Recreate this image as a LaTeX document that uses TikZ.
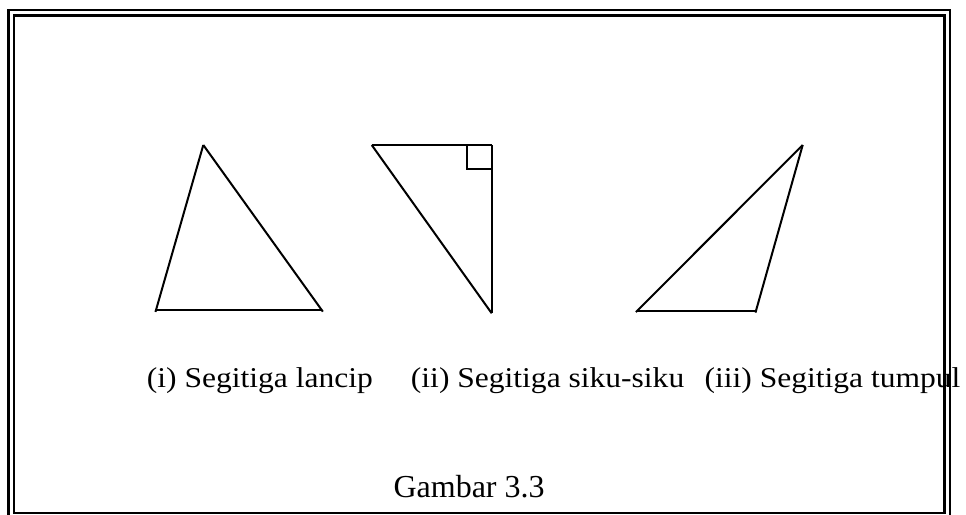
\documentclass[tikz,border=0pt]{standalone}
\usepackage{fontspec}
\setmainfont{Liberation Serif}
\usepackage{tikz}
\usetikzlibrary{calc}
\definecolor{ink}{HTML}{000000}
\newcommand{\capfont}{\fontsize{21.5pt}{26pt}\selectfont}
\newcommand{\widecap}[1]{\scalebox{1.1}[1]{#1}}
\begin{document}
\begin{tikzpicture}[
  x=0.75pt, y=-0.75pt,
  frame/.style={draw=ink, line width=1.8pt},
  side/.style={draw=ink, line width=1.5pt},
  caption/.style={anchor=base west, inner sep=0pt, font=\capfont, text=ink},
  title/.style={anchor=base west, inner sep=0pt, font=\fontsize{24pt}{28pt}\selectfont, text=ink},
]
\useasboundingbox (0,0) rectangle (966,514);
\clip (0,0) rectangle (966,514);
\fill[white] (0,0) rectangle (966,514);
% double frame
\draw[frame] (8.5,10) rectangle (950,530);
\draw[frame] (14,15.5) rectangle (944.5,513);
% (i) acute
\coordinate (a1) at (203.3,145);
\coordinate (b1) at (156,310);
\coordinate (c1) at (321.7,310);
\draw[side, shorten <=-1.5pt] (b1) -- (a1);
\draw[side, shorten >=-1.5pt] (a1) -- (c1);
\draw[side] (b1) -- (c1);
% (ii) right angle
\coordinate (a2) at (371.7,145);
\coordinate (b2) at (491.7,145);
\coordinate (c2) at (491.7,313.3);
\draw[side] (a2) -- (b2);
\draw[side] (b2) -- (c2);
\draw[side] (a2) -- (c2);
\draw[side] ($(b2)+(-25,0)$) |- ($(b2)+(0,24.3)$);
% (iii) obtuse
\coordinate (a3) at (802.7,145);
\coordinate (b3) at (637.3,310.7);
\coordinate (c3) at (756,310.7);
\draw[side, shorten <=-1.5pt] (b3) -- (a3);
\draw[side, shorten >=-1.5pt] (a3) -- (c3);
\draw[side] (b3) -- (c3);
\node[caption] (lancip) at (146.7,387) {\widecap{(i) Segitiga lancip}};
\node[caption] (siku) at (410.7,387) {\widecap{(ii) Segitiga siku-siku}};
\node[caption] (tumpul) at (704.3,387) {\widecap{(iii) Segitiga tumpul}};
\node[title] (gambar) at (393.3,497.7) {Gambar 3.3};
\end{tikzpicture}
\end{document}
